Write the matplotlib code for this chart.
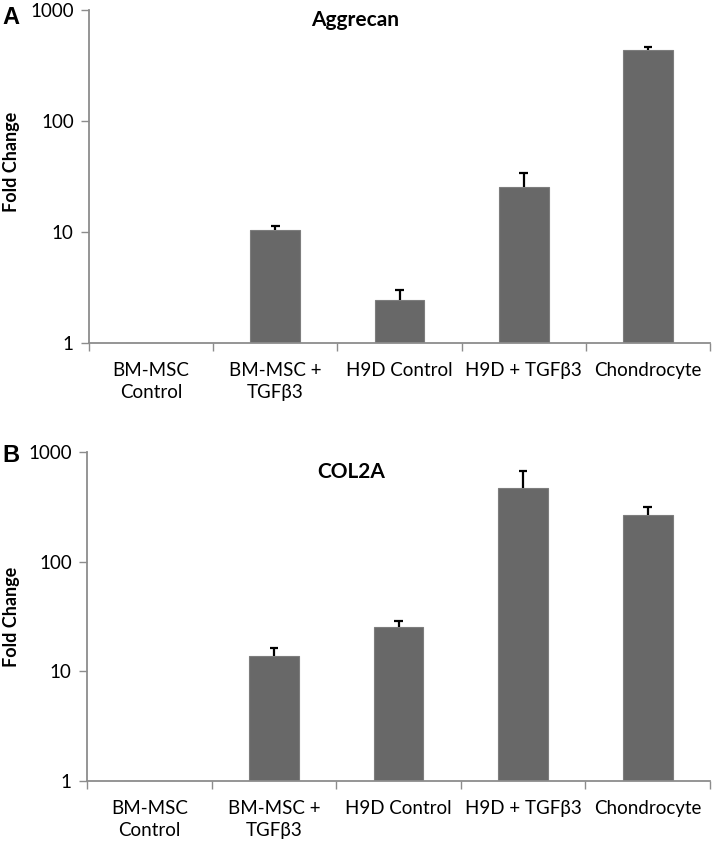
import matplotlib
matplotlib.use("Agg")
import matplotlib.pyplot as plt
import numpy as np

categories = ["BM-MSC\nControl", "BM-MSC +\nTGFβ3", "H9D Control", "H9D + TGFβ3", "Chondrocyte"]
aggrecan_vals = [1.0, 10.4, 2.43, 25.5, 432]
aggrecan_err = [0.0, 1.0, 0.6, 8.7, 30]
col2a_vals = [1.0, 13.8, 25.6, 465, 267]
col2a_err = [0.0, 2.4, 2.9, 206, 47]
yticks = [1, 10, 100, 1000]
ytick_labels = ["1", "10", "100", "1000"]

FONT = ["Lato", "DejaVu Sans"]
plt.rcParams['font.family'] = FONT

fig = plt.figure(figsize=(7.14, 8.43), dpi=100)

W, H = 714, 843
def axrect(l, r, t, b):
    return [l / W, 1 - b / H, (r - l) / W, (b - t) / H]

panels = [
    dict(rect=axrect(89, 710, 10, 343), vals=aggrecan_vals, err=aggrecan_err,
         title="Aggrecan", tx=355, ty=20, letter="A", ly=6, ylab_y=162),
    dict(rect=axrect(87, 710, 452, 781), vals=col2a_vals, err=col2a_err,
         title="COL2A", tx=351, ty=472, letter="B", ly=444, ylab_y=617),
]

gray = "#8c8c8c"
x = np.arange(len(categories))
for p in panels:
    ax = fig.add_axes(p["rect"])
    ax.set_yscale("log")
    vals = np.array(p["vals"])
    err = np.array(p["err"])
    ax.bar(x, vals, width=0.40, color="#686868", edgecolor="#7d7d7d",
           linewidth=0.8, zorder=2)
    m = err > 0
    ax.vlines(x[m], vals[m], vals[m] + err[m], color="black", lw=1.6, zorder=3)
    ax.hlines(vals[m] + err[m], x[m] - 0.035, x[m] + 0.035, color="black", lw=1.6, zorder=3)
    ax.set_ylim(1, 1000)
    ax.set_xlim(-0.5, len(categories) - 0.5)
    ax.set_yticks(yticks)
    ax.set_yticklabels(ytick_labels)
    ax.yaxis.set_minor_locator(matplotlib.ticker.NullLocator())
    ax.tick_params(axis="y", length=6, width=1, color=gray, labelsize=13.5, pad=5)
    ax.set_xticks(x)
    ax.set_xticklabels(categories, fontsize=13.5, linespacing=1.36)
    ax.tick_params(axis="x", length=0, pad=14)
    ax.set_xticks(np.arange(len(categories) + 1) - 0.5, minor=True)
    ax.tick_params(axis="x", which="minor", length=6, width=1, color=gray)
    for s in ["top", "right"]:
        ax.spines[s].set_visible(False)
    for s in ["left", "bottom"]:
        ax.spines[s].set_color(gray)
        ax.spines[s].set_linewidth(1.3)
    fig.text(p["tx"] / W, 1 - p["ty"] / H, p["title"], ha="center",
             va="center", fontsize=15, fontweight="bold")
    fig.text(2 / W, 1 - p["ly"] / H, p["letter"], ha="left", va="top",
             fontsize=17, fontweight="bold", family=["Liberation Sans", "DejaVu Sans"])
    fig.text(12 / W, 1 - p["ylab_y"] / H, "Fold Change", rotation=90, ha="center",
             va="center", fontsize=13, fontweight="bold")

fig.savefig("out.png", dpi=100)
